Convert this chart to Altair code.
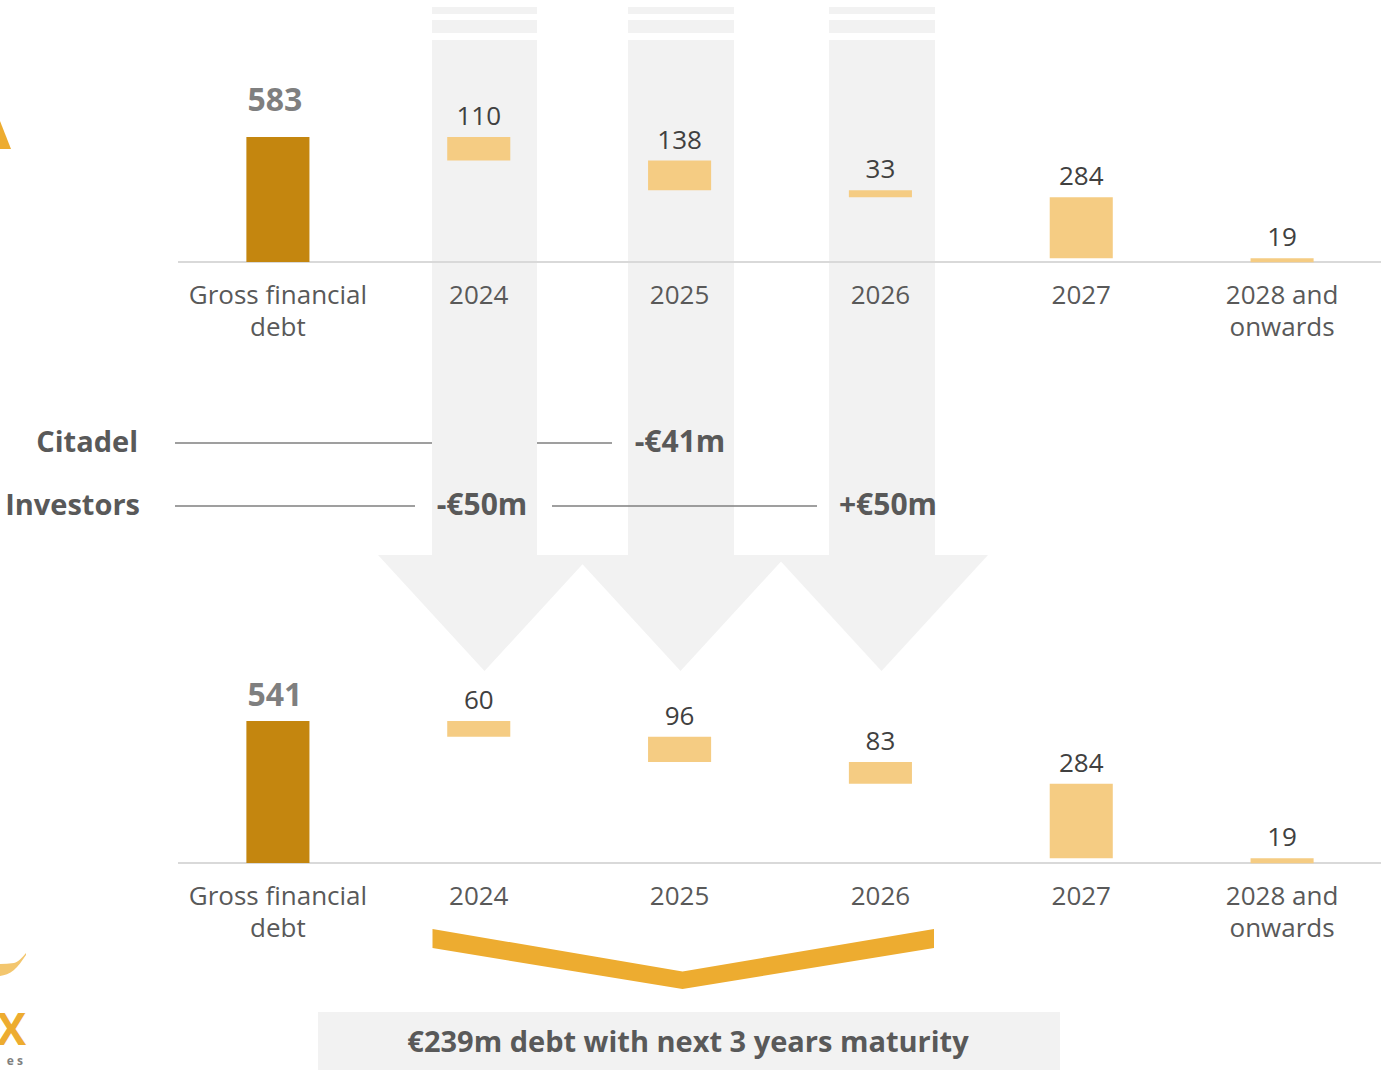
import altair as alt
import pandas as pd

W, H = 1381, 1070
FONT = "Open Sans"

# ---------------- data ----------------
categories = ["Gross financial debt", "2024", "2025", "2026", "2027", "2028 and onwards"]
cat_labels = ["Gross financial\ndebt", "2024", "2025", "2026", "2027", "2028 and\nonwards"]
top_values = [583, 110, 138, 33, 284, 19]
bottom_values = [541, 60, 96, 83, 284, 19]

side_labels = ["Citadel", "Investors"]
side_amounts = [["-€41m"], ["-€50m", "+€50m"]]
summary_text = "€239m debt with next 3 years maturity"

# ---------------- layout (pixels) ----------------
stripe_x0 = [432, 628, 829]
stripe_x1 = [537, 734, 935]
stripe_bands = [(7, 14), (20, 33), (40, 556)]
arrow_tip_x = [484.5, 680.5, 881.5]
arrow_half = 106.5
arrow_base_y, arrow_tip_y = 555, 671

row_y = [443, 506]
row_segments = [[(175, 432), (537, 612)], [(175, 415), (552, 817)]]
amount_x = [[680], [482, 888]]

bracket_x = [432.5, 682.5, 934]
bracket_top = [929, 971.5, 929]
bracket_bot = [948, 989, 948]

box = (318, 1060, 1012, 1075)

DARK = "#C4860F"
LIGHT = "#F5CC83"
GREY_BG = "#F2F2F2"
ORANGE = "#EDAC30"

lx = alt.Scale(domain=[0, W], range=[0, W], nice=False, zero=False)
ly = alt.Scale(domain=[0, H], range=[0, H], nice=False, zero=False)
xcat = alt.Scale(domain=categories, range=[177.5, 1382.5], paddingInner=0.686, paddingOuter=0.343)


def waterfall(values):
    rows = []
    running = values[0]
    for i, (c, lab, v) in enumerate(zip(categories, cat_labels, values)):
        if i == 0:
            start, end, kind = v, 0, "total"
        else:
            start, end, kind = running, running - v, "step"
            running = end
        rows.append(dict(cat=c, catlab=lab, label=str(v), start=start, end=end, kind=kind, zero=0))
    return pd.DataFrame(rows)


def panel(values, yrange, total_dy):
    df = waterfall(values)
    ys = alt.Scale(domain=[0, values[0]], range=yrange, nice=False, zero=False)
    X = alt.X("cat:N", scale=xcat, axis=None, sort=categories)
    base = alt.Chart(df)
    axis_line = alt.Chart(pd.DataFrame({"x": [178], "x2": [W], "y": [0]})).mark_rule(
        stroke="#D9D9D9", strokeWidth=2
    ).encode(
        x=alt.X("x:Q", scale=lx, axis=None), x2="x2:Q",
        y=alt.Y("y:Q", scale=ys, axis=None),
    )
    bars = base.mark_bar().encode(
        x=X,
        y=alt.Y("start:Q", scale=ys, axis=None),
        y2="end:Q",
        color=alt.Color("kind:N", scale=alt.Scale(domain=["total", "step"], range=[DARK, LIGHT]), legend=None),
    )
    vals = base.transform_filter(alt.datum.kind == "step").mark_text(
        font=FONT, fontSize=26, color="#404040", baseline="alphabetic", dy=-12
    ).encode(x=X, y=alt.Y("start:Q", scale=ys, axis=None), text="label:N")
    tot = base.transform_filter(alt.datum.kind == "total").mark_text(
        font=FONT, fontSize=32, fontWeight="bold", color="#7F7F7F", baseline="alphabetic", dy=total_dy, dx=-3
    ).encode(x=X, y=alt.Y("start:Q", scale=ys, axis=None), text="label:N")
    cats = base.mark_text(
        font=FONT, fontSize=26, color="#595959", baseline="top", dy=21, lineBreak="\n", lineHeight=32
    ).encode(x=X, y=alt.Y("zero:Q", scale=ys, axis=None), text="catlab:N")
    return [axis_line, bars, vals, tot, cats]


# ---------------- decorations ----------------
stripes = pd.DataFrame(
    [dict(x=a, x2=b, y=t, y2=bt) for a, b in zip(stripe_x0, stripe_x1) for (t, bt) in stripe_bands]
)
stripe_layer = alt.Chart(stripes).mark_rect(color=GREY_BG).encode(
    x=alt.X("x:Q", scale=lx, axis=None), x2="x2:Q",
    y=alt.Y("y:Q", scale=ly, axis=None), y2="y2:Q",
)

head_layers = []
for tx in arrow_tip_x:
    hd = pd.DataFrame(dict(
        x=[tx - arrow_half, tx, tx + arrow_half],
        y=[arrow_base_y] * 3,
        y2=[arrow_base_y, arrow_tip_y, arrow_base_y],
    ))
    head_layers.append(
        alt.Chart(hd).mark_area(color=GREY_BG, opacity=1).encode(
            x=alt.X("x:Q", scale=lx, axis=None),
            y=alt.Y("y:Q", scale=ly, axis=None, stack=None), y2="y2:Q",
        )
    )

segs = pd.DataFrame(
    [dict(x=a, x2=b, y=row_y[r]) for r in range(2) for (a, b) in row_segments[r]]
)
seg_layer = alt.Chart(segs).mark_rule(stroke="#7F7F7F", strokeWidth=1.5).encode(
    x=alt.X("x:Q", scale=lx, axis=None), x2="x2:Q",
    y=alt.Y("y:Q", scale=ly, axis=None),
)

side_df = pd.DataFrame(dict(x=[138, 140], y=row_y, t=side_labels))
side_layer = alt.Chart(side_df).mark_text(
    font=FONT, fontSize=29, fontWeight="bold", color="#595959", align="right", baseline="middle"
).encode(x=alt.X("x:Q", scale=lx, axis=None), y=alt.Y("y:Q", scale=ly, axis=None), text="t:N")

amt_df = pd.DataFrame(
    [dict(x=amount_x[r][j], y=row_y[r], t=side_amounts[r][j]) for r in range(2) for j in range(len(side_amounts[r]))]
)
amt_layer = alt.Chart(amt_df).mark_text(
    font=FONT, fontSize=30, fontWeight="bold", color="#595959", align="center", baseline="middle"
).encode(x=alt.X("x:Q", scale=lx, axis=None), y=alt.Y("y:Q", scale=ly, axis=None), text="t:N")

bracket_layer = alt.Chart(pd.DataFrame(dict(x=bracket_x, y=bracket_top, y2=bracket_bot))).mark_area(
    color=ORANGE, opacity=1
).encode(x=alt.X("x:Q", scale=lx, axis=None), y=alt.Y("y:Q", scale=ly, axis=None, stack=None), y2="y2:Q")

box_layer = alt.Chart(pd.DataFrame(dict(x=[box[0]], x2=[box[1]], y=[box[2]], y2=[box[3]]))).mark_rect(
    color=GREY_BG
).encode(
    x=alt.X("x:Q", scale=lx, axis=None), x2="x2:Q",
    y=alt.Y("y:Q", scale=ly, axis=None), y2="y2:Q",
)
box_text = alt.Chart(pd.DataFrame(dict(x=[688], y=[1043], t=[summary_text]))).mark_text(
    font=FONT, fontSize=29, fontWeight="bold", color="#595959", align="center", baseline="middle"
).encode(x=alt.X("x:Q", scale=lx, axis=None), y=alt.Y("y:Q", scale=ly, axis=None), text="t:N")

# logo fragments at the left edge
logo_tri = alt.Chart(pd.DataFrame(dict(x=[0, 11], y=[121, 149], y2=[149, 149]))).mark_area(
    color=ORANGE, opacity=1
).encode(x=alt.X("x:Q", scale=lx, axis=None), y=alt.Y("y:Q", scale=ly, axis=None, stack=None), y2="y2:Q")
logo_swoosh = alt.Chart(pd.DataFrame(dict(x=[0, 14, 26], y=[964, 963, 953], y2=[976, 970, 955]))).mark_area(
    color="#F3C66E", opacity=1, interpolate="monotone"
).encode(x=alt.X("x:Q", scale=lx, axis=None), y=alt.Y("y:Q", scale=ly, axis=None, stack=None), y2="y2:Q")
logo_txt = alt.Chart(pd.DataFrame(dict(x=[26, 23], y=[1045, 1065], t=["X", "e s"], s=[44, 12],
                                       c=["#EDAC30", "#808080"]))).mark_text(
    font=FONT, fontWeight="bold", align="right", baseline="alphabetic"
).encode(
    x=alt.X("x:Q", scale=lx, axis=None), y=alt.Y("y:Q", scale=ly, axis=None), text="t:N",
    size=alt.Size("s:Q", scale=None, legend=None), color=alt.Color("c:N", scale=None, legend=None),
)

layers = (
    [stripe_layer] + head_layers + [seg_layer]
    + panel(top_values, [262, 137], -26)
    + panel(bottom_values, [863, 721], -15)
    + [side_layer, amt_layer, bracket_layer, box_layer, box_text, logo_tri, logo_swoosh, logo_txt]
)

chart = (
    alt.layer(*layers)
    .resolve_scale(x="independent", y="independent", color="independent", size="independent")
    .properties(width=W, height=H, autosize=alt.AutoSizeParams(type="none"), padding=0, background="white")
    .configure_view(stroke=None)
)

chart.save("out.html", embed_options={"renderer": "svg", "actions": False})
